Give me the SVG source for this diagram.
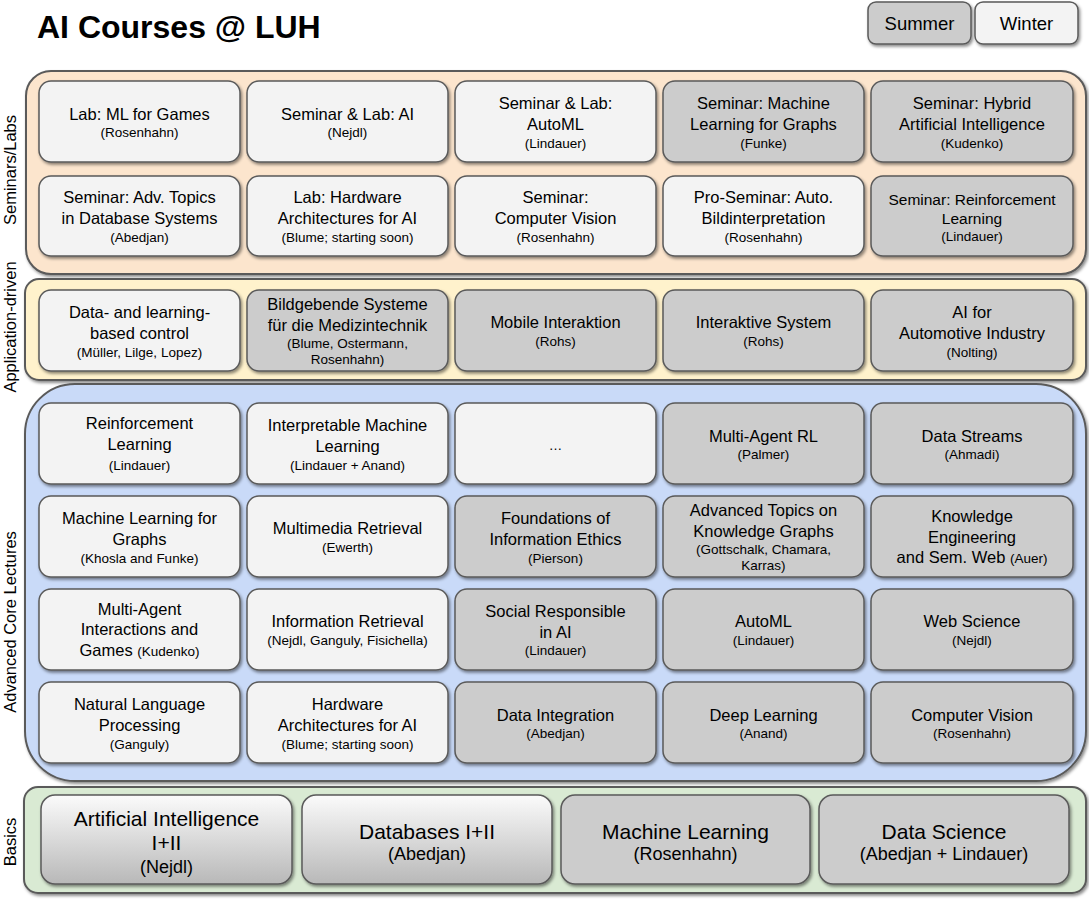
<svg xmlns="http://www.w3.org/2000/svg" width="1089" height="900" viewBox="0 0 1089 900">
<defs>
  <filter id="shadow" x="-10%" y="-10%" width="125%" height="130%">
    <feDropShadow dx="1.5" dy="2" stdDeviation="1.5" flood-color="#000" flood-opacity="0.45"/>
  </filter>
  <linearGradient id="basicGrad" x1="0" y1="0" x2="0" y2="1">
    <stop offset="0" stop-color="#fbfbfb"/>
    <stop offset="1" stop-color="#b8b8b8"/>
  </linearGradient>
  <style>
    .box { stroke: #5a5a5a; stroke-width: 1.5; filter: url(#shadow); }
    .w { fill: #f3f3f3; }
    .su { fill: #cccccc; }
    .grad { fill: url(#basicGrad); }
    .area { stroke: #5a5a5a; stroke-width: 2; filter: url(#shadow); }
    text { font-family: "Liberation Sans", Arial, sans-serif; fill: #000; text-anchor: middle; }
    .m { font-size: 16.5px; }
    .m15 { font-size: 15.5px; }
    .s { font-size: 13.5px; }
    .bm { font-size: 21px; }
    .bs { font-size: 18px; }
    .lbl { font-size: 16.5px; }
    .title { font-size: 32px; font-weight: bold; text-anchor: start; }
    .leg { font-size: 18.5px; }
  </style>
</defs>

<rect width="1089" height="900" fill="#ffffff"/>

<text class="title" x="37" y="38">AI Courses @ LUH</text>

<!-- semester legend -->
<g id="legend-summer">
  <rect class="box su" x="868" y="2" width="103" height="42" rx="8"/>
  <text class="leg" x="919.5" y="30">Summer</text>
</g>
<g id="legend-winter">
  <rect class="box w" x="975" y="2" width="103" height="42" rx="8"/>
  <text class="leg" x="1026.5" y="30">Winter</text>
</g>

<!-- category areas -->
<g id="area-seminars">
  <rect class="area" x="26" y="71" width="1060" height="203" rx="25" fill="#fce5cd"/>
  <text class="lbl" transform="translate(16 170) rotate(-90)">Seminars/Labs</text>
</g>
<g id="area-application">
  <rect class="area" x="25" y="279" width="1061" height="101" rx="14" fill="#fff2cc"/>
  <text class="lbl" transform="translate(16 327) rotate(-90)">Application-driven</text>
</g>
<g id="area-advanced">
  <rect class="area" x="25" y="384" width="1061" height="397" rx="50" fill="#c9daf8"/>
  <text class="lbl" transform="translate(16 622) rotate(-90)">Advanced Core Lectures</text>
</g>
<g id="area-basics">
  <rect class="area" x="24" y="787" width="1062" height="106" rx="14" fill="#d9ead3"/>
  <text class="lbl" transform="translate(16 842) rotate(-90)">Basics</text>
</g>

<!-- Seminars / Labs, row 1 -->
<g id="lab-ml-games">
  <rect class="box w" x="39" y="81" width="201" height="81" rx="12"/>
  <text x="139.5"><tspan class="m" x="139.5" y="120">Lab: ML for Games</tspan><tspan class="s" x="139.5" y="137">(Rosenhahn)</tspan></text>
</g>
<g id="seminar-lab-ai">
  <rect class="box w" x="247" y="81" width="201" height="81" rx="12"/>
  <text><tspan class="m" x="347.5" y="120">Seminar &amp; Lab: AI</tspan><tspan class="s" x="347.5" y="137">(Nejdl)</tspan></text>
</g>
<g id="seminar-lab-automl">
  <rect class="box w" x="455" y="81" width="201" height="81" rx="12"/>
  <text><tspan class="m" x="555.5" y="109">Seminar &amp; Lab:</tspan><tspan class="m" x="555.5" y="130">AutoML</tspan><tspan class="s" x="555.5" y="148">(Lindauer)</tspan></text>
</g>
<g id="seminar-ml-graphs">
  <rect class="box su" x="663" y="81" width="201" height="81" rx="12"/>
  <text><tspan class="m" x="763.5" y="109">Seminar: Machine</tspan><tspan class="m" x="763.5" y="130">Learning for Graphs</tspan><tspan class="s" x="763.5" y="148">(Funke)</tspan></text>
</g>
<g id="seminar-hybrid-ai">
  <rect class="box su" x="871" y="81" width="202" height="81" rx="12"/>
  <text><tspan class="m" x="972" y="109">Seminar: Hybrid</tspan><tspan class="m" x="972" y="130">Artificial Intelligence</tspan><tspan class="s" x="972" y="148">(Kudenko)</tspan></text>
</g>

<!-- Seminars / Labs, row 2 -->
<g id="seminar-adv-db">
  <rect class="box w" x="39" y="176" width="201" height="80" rx="12"/>
  <text><tspan class="m" x="139.5" y="203">Seminar: Adv. Topics</tspan><tspan class="m" x="139.5" y="224">in Database Systems</tspan><tspan class="s" x="139.5" y="242">(Abedjan)</tspan></text>
</g>
<g id="lab-hw-ai">
  <rect class="box w" x="247" y="176" width="201" height="80" rx="12"/>
  <text><tspan class="m" x="347.5" y="203">Lab: Hardware</tspan><tspan class="m" x="347.5" y="224">Architectures for AI</tspan><tspan class="s" x="347.5" y="242">(Blume; starting soon)</tspan></text>
</g>
<g id="seminar-cv">
  <rect class="box w" x="455" y="176" width="201" height="80" rx="12"/>
  <text><tspan class="m" x="555.5" y="203">Seminar:</tspan><tspan class="m" x="555.5" y="224">Computer Vision</tspan><tspan class="s" x="555.5" y="242">(Rosenhahn)</tspan></text>
</g>
<g id="proseminar-bild">
  <rect class="box w" x="663" y="176" width="201" height="80" rx="12"/>
  <text><tspan class="m" x="763.5" y="203">Pro-Seminar: Auto.</tspan><tspan class="m" x="763.5" y="224">Bildinterpretation</tspan><tspan class="s" x="763.5" y="242">(Rosenhahn)</tspan></text>
</g>
<g id="seminar-rl">
  <rect class="box su" x="871" y="176" width="202" height="80" rx="12"/>
  <text><tspan class="m15" x="972" y="205">Seminar: Reinforcement</tspan><tspan class="m15" x="972" y="224">Learning</tspan><tspan class="s" x="972" y="241">(Lindauer)</tspan></text>
</g>

<!-- Application-driven -->
<g id="app-control">
  <rect class="box w" x="39" y="290" width="201" height="81" rx="12"/>
  <text><tspan class="m" x="139.5" y="318">Data- and learning-</tspan><tspan class="m" x="139.5" y="339">based control</tspan><tspan class="s" x="139.5" y="357">(Müller, Lilge, Lopez)</tspan></text>
</g>
<g id="app-medizintechnik">
  <rect class="box su" x="247" y="290" width="201" height="81" rx="12"/>
  <text><tspan class="m" x="347.5" y="310">Bildgebende Systeme</tspan><tspan class="m" x="347.5" y="331">für die Medizintechnik</tspan><tspan class="s" x="347.5" y="348">(Blume, Ostermann,</tspan><tspan class="s" x="347.5" y="364">Rosenhahn)</tspan></text>
</g>
<g id="app-mobile">
  <rect class="box su" x="455" y="290" width="201" height="81" rx="12"/>
  <text><tspan class="m" x="555.5" y="328">Mobile Interaktion</tspan><tspan class="s" x="555.5" y="346">(Rohs)</tspan></text>
</g>
<g id="app-interaktive">
  <rect class="box su" x="663" y="290" width="201" height="81" rx="12"/>
  <text><tspan class="m" x="763.5" y="328">Interaktive System</tspan><tspan class="s" x="763.5" y="346">(Rohs)</tspan></text>
</g>
<g id="app-automotive">
  <rect class="box su" x="871" y="290" width="202" height="81" rx="12"/>
  <text><tspan class="m" x="972" y="318">AI for</tspan><tspan class="m" x="972" y="339">Automotive Industry</tspan><tspan class="s" x="972" y="357">(Nolting)</tspan></text>
</g>

<!-- Advanced core lectures, row 1 -->
<g id="adv-rl">
  <rect class="box w" x="39" y="403" width="201" height="81" rx="12"/>
  <text><tspan class="m" x="139.5" y="429">Reinforcement</tspan><tspan class="m" x="139.5" y="450">Learning</tspan><tspan class="s" x="139.5" y="470">(Lindauer)</tspan></text>
</g>
<g id="adv-iml">
  <rect class="box w" x="247" y="403" width="201" height="81" rx="12"/>
  <text><tspan class="m" x="347.5" y="431">Interpretable Machine</tspan><tspan class="m" x="347.5" y="452">Learning</tspan><tspan class="s" x="347.5" y="470">(Lindauer + Anand)</tspan></text>
</g>
<g id="adv-more">
  <rect class="box w" x="455" y="403" width="201" height="81" rx="12"/>
  <text class="s" x="555.5" y="450">…</text>
</g>
<g id="adv-marl">
  <rect class="box su" x="663" y="403" width="201" height="81" rx="12"/>
  <text><tspan class="m" x="763.5" y="442">Multi-Agent RL</tspan><tspan class="s" x="763.5" y="459">(Palmer)</tspan></text>
</g>
<g id="adv-streams">
  <rect class="box su" x="871" y="403" width="202" height="81" rx="12"/>
  <text><tspan class="m" x="972" y="442">Data Streams</tspan><tspan class="s" x="972" y="459">(Ahmadi)</tspan></text>
</g>

<!-- Advanced core lectures, row 2 -->
<g id="adv-ml-graphs">
  <rect class="box w" x="39" y="496" width="201" height="81" rx="12"/>
  <text><tspan class="m" x="139.5" y="524">Machine Learning for</tspan><tspan class="m" x="139.5" y="545">Graphs</tspan><tspan class="s" x="139.5" y="563">(Khosla and Funke)</tspan></text>
</g>
<g id="adv-multimedia">
  <rect class="box w" x="247" y="496" width="201" height="81" rx="12"/>
  <text><tspan class="m" x="347.5" y="534">Multimedia Retrieval</tspan><tspan class="s" x="347.5" y="552">(Ewerth)</tspan></text>
</g>
<g id="adv-ethics">
  <rect class="box su" x="455" y="496" width="201" height="81" rx="12"/>
  <text><tspan class="m" x="555.5" y="524">Foundations of</tspan><tspan class="m" x="555.5" y="545">Information Ethics</tspan><tspan class="s" x="555.5" y="563">(Pierson)</tspan></text>
</g>
<g id="adv-kg">
  <rect class="box su" x="663" y="496" width="201" height="81" rx="12"/>
  <text><tspan class="m" x="763.5" y="516">Advanced Topics on</tspan><tspan class="m" x="763.5" y="537">Knowledge Graphs</tspan><tspan class="s" x="763.5" y="554">(Gottschalk, Chamara,</tspan><tspan class="s" x="763.5" y="570">Karras)</tspan></text>
</g>
<g id="adv-ke">
  <rect class="box su" x="871" y="496" width="202" height="81" rx="12"/>
  <text><tspan class="m" x="972" y="522">Knowledge</tspan><tspan class="m" x="972" y="543">Engineering</tspan><tspan class="m" x="972" y="563">and Sem. Web <tspan class="s">(Auer)</tspan></tspan></text>
</g>

<!-- Advanced core lectures, row 3 -->
<g id="adv-mai">
  <rect class="box w" x="39" y="589" width="201" height="81" rx="12"/>
  <text><tspan class="m" x="139.5" y="615">Multi-Agent</tspan><tspan class="m" x="139.5" y="635">Interactions and</tspan><tspan class="m" x="139.5" y="656">Games <tspan class="s">(Kudenko)</tspan></tspan></text>
</g>
<g id="adv-ir">
  <rect class="box w" x="247" y="589" width="201" height="81" rx="12"/>
  <text><tspan class="m" x="347.5" y="627">Information Retrieval</tspan><tspan class="s" x="347.5" y="645">(Nejdl, Ganguly, Fisichella)</tspan></text>
</g>
<g id="adv-social">
  <rect class="box su" x="455" y="589" width="201" height="81" rx="12"/>
  <text><tspan class="m" x="555.5" y="617">Social Responsible</tspan><tspan class="m" x="555.5" y="638">in AI</tspan><tspan class="s" x="555.5" y="655">(Lindauer)</tspan></text>
</g>
<g id="adv-automl">
  <rect class="box su" x="663" y="589" width="201" height="81" rx="12"/>
  <text><tspan class="m" x="763.5" y="627">AutoML</tspan><tspan class="s" x="763.5" y="645">(Lindauer)</tspan></text>
</g>
<g id="adv-web">
  <rect class="box su" x="871" y="589" width="202" height="81" rx="12"/>
  <text><tspan class="m" x="972" y="627">Web Science</tspan><tspan class="s" x="972" y="645">(Nejdl)</tspan></text>
</g>

<!-- Advanced core lectures, row 4 -->
<g id="adv-nlp">
  <rect class="box w" x="39" y="682" width="201" height="81" rx="12"/>
  <text><tspan class="m" x="139.5" y="710">Natural Language</tspan><tspan class="m" x="139.5" y="731">Processing</tspan><tspan class="s" x="139.5" y="749">(Ganguly)</tspan></text>
</g>
<g id="adv-hw">
  <rect class="box w" x="247" y="682" width="201" height="81" rx="12"/>
  <text><tspan class="m" x="347.5" y="710">Hardware</tspan><tspan class="m" x="347.5" y="731">Architectures for AI</tspan><tspan class="s" x="347.5" y="749">(Blume; starting soon)</tspan></text>
</g>
<g id="adv-integration">
  <rect class="box su" x="455" y="682" width="201" height="81" rx="12"/>
  <text><tspan class="m" x="555.5" y="721">Data Integration</tspan><tspan class="s" x="555.5" y="738">(Abedjan)</tspan></text>
</g>
<g id="adv-dl">
  <rect class="box su" x="663" y="682" width="201" height="81" rx="12"/>
  <text><tspan class="m" x="763.5" y="721">Deep Learning</tspan><tspan class="s" x="763.5" y="738">(Anand)</tspan></text>
</g>
<g id="adv-cv">
  <rect class="box su" x="871" y="682" width="202" height="81" rx="12"/>
  <text><tspan class="m" x="972" y="721">Computer Vision</tspan><tspan class="s" x="972" y="738">(Rosenhahn)</tspan></text>
</g>

<!-- Basics -->
<g id="basic-ai">
  <rect class="box grad" x="41" y="795" width="251" height="89" rx="14"/>
  <text><tspan class="bm" x="166.5" y="826">Artificial Intelligence</tspan><tspan class="bm" x="166.5" y="850">I+II</tspan><tspan class="bs" x="166.5" y="873">(Nejdl)</tspan></text>
</g>
<g id="basic-db">
  <rect class="box grad" x="302" y="795" width="250" height="89" rx="14"/>
  <text><tspan class="bm" x="427" y="839">Databases I+II</tspan><tspan class="bs" x="427" y="860">(Abedjan)</tspan></text>
</g>
<g id="basic-ml">
  <rect class="box su" x="561" y="795" width="249" height="89" rx="14"/>
  <text><tspan class="bm" x="685.5" y="839">Machine Learning</tspan><tspan class="bs" x="685.5" y="860">(Rosenhahn)</tspan></text>
</g>
<g id="basic-ds">
  <rect class="box su" x="819" y="795" width="250" height="89" rx="14"/>
  <text><tspan class="bm" x="944" y="839">Data Science</tspan><tspan class="bs" x="944" y="860">(Abedjan + Lindauer)</tspan></text>
</g>

<g id="connectors"/>
</svg>
